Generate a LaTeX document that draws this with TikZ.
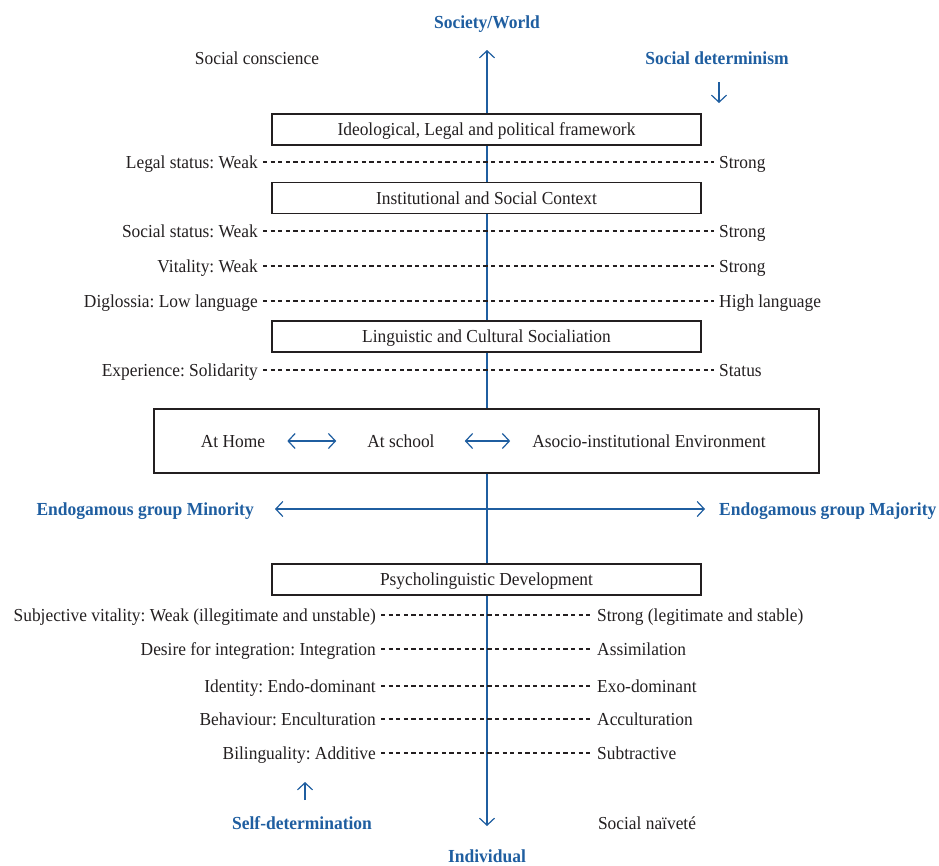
\documentclass[tikz,border=0pt]{standalone}
\usepackage{fontspec}
\setmainfont{Liberation Serif}[FakeStretch=0.95]
\usetikzlibrary{arrows.meta,positioning}
\definecolor{axisblue}{RGB}{31,94,160}
\definecolor{inkgray}{RGB}{35,31,32}
\frenchspacing

\begin{document}
\begin{tikzpicture}[x=1pt,y=-1pt,text=inkgray,
  every node/.style={font=\fontsize{18.3}{20}\selectfont,text height=13pt,text depth=1pt},
  frame box/.style={draw=inkgray,line width=1.6pt,fill=white,minimum width=429pt,minimum height=31pt,inner sep=0pt},
  weak label/.style={anchor=east,inner sep=5pt},
  strong label/.style={anchor=west,inner sep=5pt},
  blue label/.style={text=axisblue,font=\fontsize{18.4}{20}\selectfont\bfseries},
  dots/.style={draw=inkgray,line width=2.6pt,dash pattern=on 4.2pt off 3.4pt},
  barb/.tip={Straight Barb[length=7pt,width=15pt,line width=1.2pt]},
  axis/.style={draw=axisblue,line width=1.2pt}]
  \useasboundingbox (0,0) rectangle (939,865);

  % main axis, behind the boxes
  \coordinate (up) at (487,50);
  \coordinate (down) at (487,826);
  \draw[axis,barb-barb] (up) -- (down);

  \node[blue label] (world) at (487,22) {Society/World};
  \node (conscience) at (257,58) {Social conscience};
  \node[blue label] (determinism) at (717,58) {Social determinism};
  \coordinate (det from) at (719,82);
  \coordinate (det to) at (719,103);
  \draw[axis,-barb] (det from) -- (det to);

  % upper frames and scales
  \node[frame box] (ideology) at (486.5,129.5) {Ideological, Legal and political framework};
  \node[weak label] (w1) at (263,162) {Legal status: Weak};
  \node[strong label] (s1) at (714,162) {Strong};
  \node[frame box] (context) at (486.5,198) {Institutional and Social Context};
  \node[weak label] (w2) at (263,231) {Social status: Weak};
  \node[strong label] (s2) at (714,231) {Strong};
  \node[weak label] (w3) at (263,266) {Vitality: Weak};
  \node[strong label] (s3) at (714,266) {Strong};
  \node[weak label] (w4) at (263,301) {Diglossia: Low language};
  \node[strong label] (s4) at (714,301) {High language};
  \node[frame box] (socialisation) at (486.5,336.5) {Linguistic and Cultural Socialiation};
  \node[weak label] (w5) at (263,370) {Experience: Solidarity};
  \node[strong label] (s5) at (714,370) {Status};

  % environment frame
  \node[frame box,minimum width=665pt,minimum height=64pt] (environment) at (486.5,441) {};
  \node[inner sep=0pt] (home) at (233,441) {At Home};
  \node[inner sep=0pt] (school) at (401,441) {At school};
  \node[inner sep=0pt] (asocio) at (649,441) {Asocio-institutional Environment};
  \draw[axis,barb-barb,shorten <=22pt,shorten >=31pt] (home) -- (school);
  \draw[axis,barb-barb,shorten <=30pt,shorten >=22pt] (school) -- (asocio);

  \node[blue label,anchor=east,inner sep=0pt] (minority) at (254,509) {Endogamous group Minority};
  \node[blue label,anchor=west,inner sep=0pt] (majority) at (719,509) {Endogamous group Majority};
  \draw[axis,barb-barb,shorten <=21pt,shorten >=14pt] (minority) -- (majority);

  % lower frame and scales
  \node[frame box] (psycho) at (486.5,579.5) {Psycholinguistic Development};
  \node[weak label] (w6) at (381,615) {Subjective vitality: Weak (illegitimate and unstable)};
  \node[strong label] (s6) at (592,615) {Strong (legitimate and stable)};
  \node[weak label] (w7) at (381,649) {Desire for integration: Integration};
  \node[strong label] (s7) at (592,649) {Assimilation};
  \node[weak label] (w8) at (381,686) {Identity: Endo-dominant};
  \node[strong label] (s8) at (592,686) {Exo-dominant};
  \node[weak label] (w9) at (381,719) {Behaviour: Enculturation};
  \node[strong label] (s9) at (592,719) {Acculturation};
  \node[weak label] (w10) at (381,753) {Bilinguality: Additive};
  \node[strong label] (s10) at (592,753) {Subtractive};

  \path[dots]
    (w1) edge (s1)
    (w2) edge (s2)
    (w3) edge (s3)
    (w4) edge (s4)
    (w5) edge (s5)
    (w6) edge (s6)
    (w7) edge (s7)
    (w8) edge (s8)
    (w9) edge (s9)
    (w10) edge (s10);

  \coordinate (self from) at (305,800);
  \coordinate (self to) at (305,782);
  \draw[axis,-barb] (self from) -- (self to);
  \node[blue label] (self) at (302,823) {Self-determination};
  \node (naivete) at (647,823) {Social naïveté};
  \node[blue label] (individual) at (487,856) {Individual};
\end{tikzpicture}
\end{document}
